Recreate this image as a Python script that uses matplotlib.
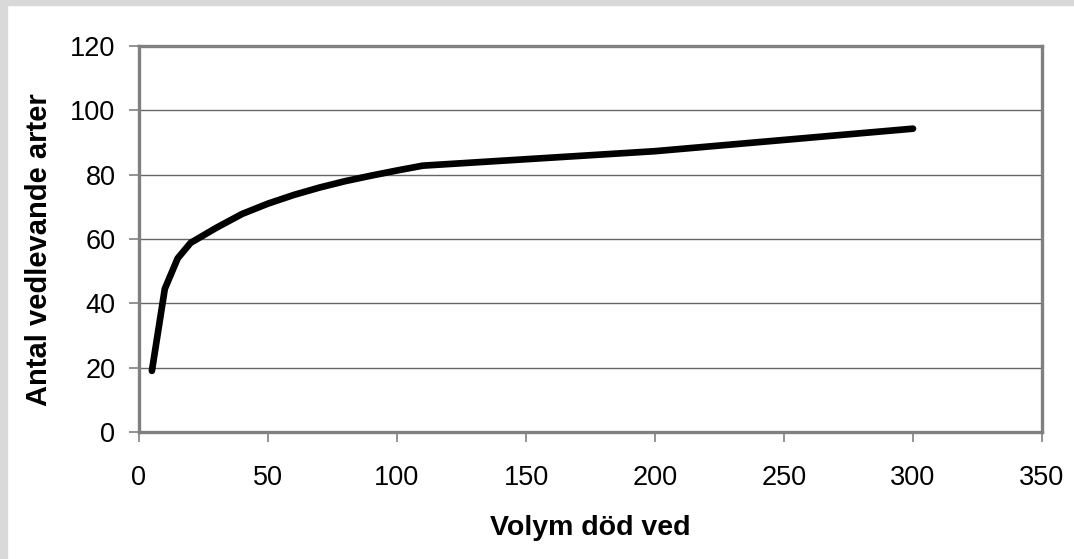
import matplotlib.pyplot as plt
from matplotlib.patches import Rectangle

# Data
volym = [5, 10, 15, 20, 30, 40, 50, 60, 70, 80, 90, 100, 110, 200, 300]
arter = [19, 44.5, 54, 58.8, 63.5, 67.8, 71, 73.7, 76, 78, 79.7, 81.3, 82.8, 87.3, 94.3]

plt.rcParams["font.family"] = ["Liberation Sans", "DejaVu Sans"]

fig = plt.figure(figsize=(10.74, 5.59), dpi=100)
# light gray frame on the left and top
fig.patches.append(Rectangle((0, 0), 7 / 1074, 1, transform=fig.transFigure,
                             color="#d9d9d9", zorder=0))
fig.patches.append(Rectangle((0, 1 - 5 / 559), 1, 5 / 559, transform=fig.transFigure,
                             color="#d9d9d9", zorder=0))

ax = fig.add_axes([139 / 1074, 127 / 559, 903 / 1074, 386 / 559])
ax.plot(volym, arter, color="black", lw=4.8, solid_capstyle="round",
        solid_joinstyle="round", zorder=3)

ax.set_xlim(0, 350)
ax.set_ylim(0, 120)
ax.set_xticks(range(0, 351, 50))
ax.set_yticks(range(0, 121, 20))
ax.yaxis.grid(True, color="#666666", lw=1)
ax.set_axisbelow(True)

for s in ax.spines.values():
    s.set_color("#808080")
    s.set_linewidth(2.4)

ax.tick_params(axis="both", direction="out", length=7, width=1.2,
               color="#808080", labelsize=19.5)
ax.tick_params(axis="x", pad=17)
ax.tick_params(axis="y", pad=10)

ax.set_xlabel("Volym död ved", fontsize=20.5, fontweight="bold")
ax.set_ylabel("Antal vedlevande arter", fontsize=21, fontweight="bold")
ax.xaxis.set_label_coords(0.5, -0.215)
ax.yaxis.set_label_coords(-0.095, 0.473)

plt.savefig("out.png", dpi=100)
